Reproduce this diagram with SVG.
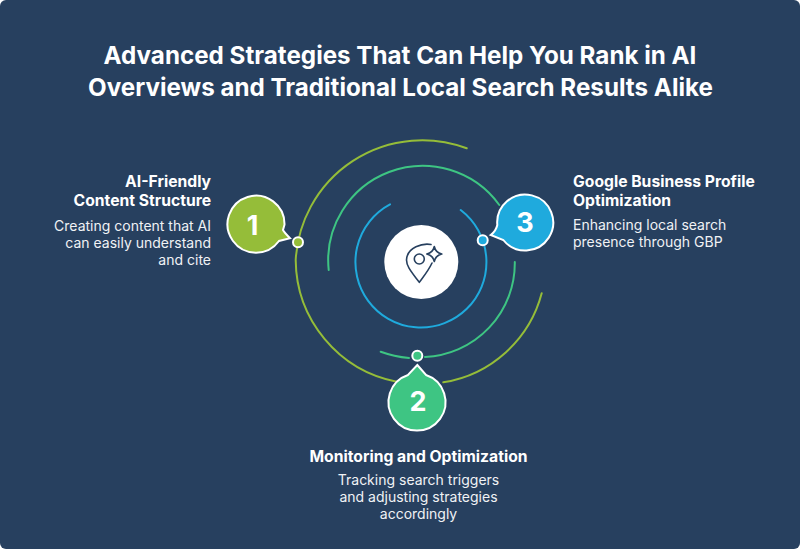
<svg xmlns="http://www.w3.org/2000/svg" width="800" height="549" viewBox="0 0 800 549">
<style>
text{font-family:Inter,"Liberation Sans",sans-serif;fill:#fff}
.t{font-size:24.2px;font-weight:700;text-anchor:middle}
.h{font-size:15.7px;font-weight:700}
.b{font-size:14px;font-weight:400;fill:#f0f2f5}
.n{font-size:27px;font-weight:700;text-anchor:middle}
.arc{fill:none;stroke-width:2;stroke-linecap:round}
.bub{stroke:#fff;stroke-width:2}
.dot{stroke:#fff;stroke-width:2}
.ic{fill:none;stroke:#27405f;stroke-width:1.6;stroke-linecap:round;stroke-linejoin:round}
</style>
<rect width="800" height="549" fill="#fff"/>
<rect width="800" height="549" rx="6" fill="#27405f"/>
<g id="title"><text class="t" x="400" y="64">Advanced Strategies That Can Help You Rank in AI</text><text class="t" x="400.500" y="96">Overviews and Traditional Local Search Results Alike</text></g>
<g id="connectors">
<path class="arc" stroke="#95bd39" d="M466.700 148.300A126.700 126.700 0 0 0 295.700 260A125 125 0 0 0 396.700 381.700M443.300 382.300A121.500 121.500 0 0 0 541.700 293.300"/>
<path class="arc" stroke="#3ec583" d="M328.700 270A94.500 94.500 0 0 1 499.300 205M514.800 262A94 94 0 0 1 425 357M409 358Q394 356.500 380.700 351.700"/>
<path class="arc" stroke="#1faadd" d="M390 204.300A65.500 65.500 0 1 0 460.700 210"/>
</g>
<g id="center"><circle cx="421.300" cy="262" r="37" fill="#fff"/>
<circle class="ic" cx="419.300" cy="259" r="5"/>
<path class="ic" d="M431 244.500C423 243 407 247 406.500 260C406.500 265 409 269 419.300 282.300C424 276 428.500 270.500 432 263"/>
<path class="ic" d="M434.300 246.500Q435.500 252.500 441.800 254Q435.500 255.500 434.300 261.500Q433 255.500 426.800 254Q433 252.500 434.300 246.500Z"/></g>
<g id="node1"><path class="bub" fill="#95bd39" d="M284.500 224.700A28.500 28.500 0 1 0 279 241L290 238.300Q284 232 283 230Z"/><text class="n" x="252.500" y="234.500">1</text>
<circle class="dot" cx="298" cy="242.300" r="5" fill="#95bd39"/>
<text class="h" text-anchor="end" x="211" y="187">AI-Friendly</text><text class="h" text-anchor="end" x="211" y="206">Content Structure</text>
<text class="b" text-anchor="end" x="211" y="231">Creating content that AI</text><text class="b" text-anchor="end" x="211" y="248">can easily understand</text><text class="b" text-anchor="end" x="211" y="265">and cite</text></g>
<g id="node2"><path class="bub" fill="#3ec583" d="M417.300 365L426 375A28.500 28.500 0 1 1 408 375Z"/><text class="n" x="418" y="411">2</text>
<circle class="dot" cx="417.300" cy="355.700" r="5" fill="#3ec583"/>
<text class="h" text-anchor="middle" x="418.500" y="462">Monitoring and Optimization</text>
<text class="b" text-anchor="middle" x="418.500" y="485">Tracking search triggers</text><text class="b" text-anchor="middle" x="418.500" y="502">and adjusting strategies</text><text class="b" text-anchor="middle" x="418.500" y="519">accordingly</text></g>
<g id="node3"><path class="bub" fill="#1faadd" d="M497.300 225A28 28 0 1 1 503.300 240L490.700 235Q496 231 497.300 225Z"/><text class="n" x="525" y="232">3</text>
<circle class="dot" cx="482.700" cy="240.300" r="5" fill="#1faadd"/>
<text class="h" x="573" y="187">Google Business Profile</text><text class="h" x="573" y="206">Optimization</text>
<text class="b" x="573" y="230">Enhancing local search</text><text class="b" x="573" y="247">presence through GBP</text></g>
</svg>
